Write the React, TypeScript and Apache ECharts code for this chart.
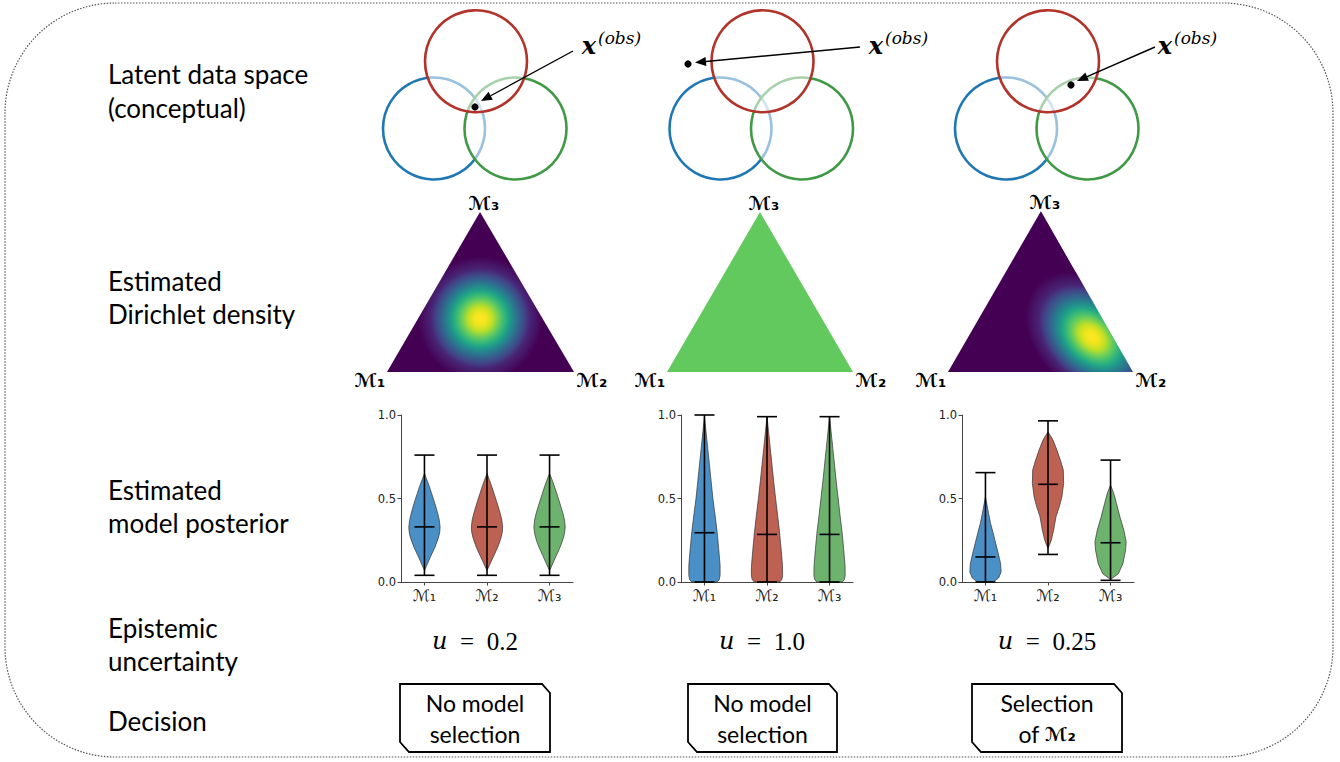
import React, { useEffect, useRef } from 'react';
import * as echarts from 'echarts';

// ---------------- data ----------------
const ROW_LABELS = [
  ['Latent data space', '(conceptual)'],
  ['Estimated', 'Dirichlet density'],
  ['Estimated', 'model posterior'],
  ['Epistemic', 'uncertainty'],
  ['Decision'],
];
const MODEL_POS = [1, 2, 3];
const MODEL_NAMES = ['ℳ₁', 'ℳ₂', 'ℳ₃'];
const U_VALUES = ['0.2', '1.0', '0.25'];
const DECISION_LINE1 = ['No model', 'No model', 'Selection'];
const DECISION_LINE2 = ['selection', 'selection', 'of '];
const DECISION_MODEL = ['', '', 'ℳ₂'];
const Y_TICKS = [0, 0.5, 1.0];

// panel 1 (equal posterior)
const P1_MIN = [0.04, 0.04, 0.04];
const P1_MAX = [0.76, 0.76, 0.76];
const P1_MEAN = [0.33, 0.33, 0.33];
const P1_LEVELS = [0.07, 0.09, 0.12, 0.15, 0.18, 0.21, 0.24, 0.27, 0.3, 0.33, 0.37, 0.41, 0.45, 0.49, 0.53, 0.57, 0.61, 0.65];
const P1_WIDTH_M1 = [0, 0.1, 0.24, 0.38, 0.53, 0.68, 0.8, 0.91, 0.98, 1.0, 0.95, 0.85, 0.73, 0.6, 0.46, 0.32, 0.16, 0];
const P1_WIDTH_M2 = [0, 0.11, 0.25, 0.4, 0.55, 0.69, 0.81, 0.91, 0.98, 1.0, 0.95, 0.85, 0.72, 0.59, 0.45, 0.31, 0.16, 0];
const P1_WIDTH_M3 = [0, 0.11, 0.25, 0.39, 0.54, 0.68, 0.8, 0.9, 0.97, 1.0, 0.96, 0.86, 0.73, 0.6, 0.46, 0.32, 0.17, 0];

// panel 2 (flat / maximal uncertainty)
const P2_MIN = [0.0, 0.0, 0.0];
const P2_MAX = [1.0, 0.99, 0.99];
const P2_MEAN = [0.295, 0.285, 0.285];
const P2_LEVELS = [0, 0.015, 0.04, 0.1, 0.2, 0.3, 0.4, 0.5, 0.6, 0.7, 0.8, 0.9, 0.99];
const P2_WIDTH_M1 = [0.82, 0.95, 1.0, 1.0, 0.91, 0.81, 0.68, 0.54, 0.43, 0.32, 0.21, 0.1, 0];
const P2_WIDTH_M2 = [0.82, 0.95, 1.0, 0.99, 0.9, 0.8, 0.68, 0.55, 0.43, 0.32, 0.21, 0.1, 0];
const P2_WIDTH_M3 = [0.82, 0.95, 1.0, 0.99, 0.9, 0.8, 0.67, 0.55, 0.43, 0.32, 0.21, 0.1, 0];

// panel 3 (M2 preferred)
const P3_MIN = [0.0, 0.165, 0.01];
const P3_MAX = [0.655, 0.965, 0.73];
const P3_MEAN = [0.15, 0.585, 0.235];
const P3_LEVELS_M1 = [0, 0.025, 0.06, 0.11, 0.17, 0.23, 0.29, 0.35, 0.41, 0.47, 0.51];
const P3_WIDTH_M1 = [0.5, 0.85, 1.0, 0.97, 0.82, 0.66, 0.5, 0.33, 0.2, 0.08, 0];
const P3_LEVELS_M2 = [0.2, 0.25, 0.31, 0.39, 0.45, 0.51, 0.59, 0.67, 0.73, 0.79, 0.85, 0.9];
const P3_WIDTH_M2 = [0, 0.21, 0.36, 0.51, 0.72, 0.89, 1.0, 0.98, 0.79, 0.57, 0.32, 0];
const P3_LEVELS_M3 = [0.015, 0.05, 0.11, 0.19, 0.24, 0.31, 0.39, 0.47, 0.53, 0.58];
const P3_WIDTH_M3 = [0, 0.5, 0.79, 0.96, 1.0, 0.85, 0.6, 0.38, 0.21, 0];

// ---------------- styling / layout ----------------
const VIOLIN_COLORS = ['#4a8fc5', '#bd6152', '#6db36d'];
const CIRCLE_BLUE = '#1f77b4';
const CIRCLE_RED = '#b2332a';
const CIRCLE_GREEN = '#3f9a46';
const LABEL_FONT = 'Lato, "Open Sans", sans-serif';
const MATH_FONT = '"DejaVu Serif", "Liberation Serif", serif';
const SCRIPT_FONT = '"DejaVu Sans", "DejaVu Serif", sans-serif';

const GRIDS = [
  { left: 401, top: 415, width: 172, height: 167 },
  { left: 681, top: 415, width: 172, height: 167 },
  { left: 962, top: 415, width: 172, height: 167 },
];
const COL_CENTER = [475, 762, 1047];
const VENN_X = [476, 762.5, 1048];
const DOTS = [[475, 107], [688, 64], [1071, 85]];
const ARROW_FROM = [[573, 51], [860, 47], [1155, 47]];
const ARROW_TO = [[481, 101], [695, 62.5], [1077, 81]];
const XOBS_X = [589, 876, 1165];
const TRI = [
  { apex: [480, 212], bl: [387, 372], br: [574, 372] },
  { apex: [760, 212], bl: [667, 372], br: [853, 372] },
  { apex: [1041, 211], bl: [948, 372], br: [1133, 372] },
];
const BOXES = [[400, 684, 550, 752], [688, 684, 837, 752], [972, 684, 1122, 752]];
const LABEL_Y = [[74, 108], [281, 314], [490, 523], [628, 661], [721]];

const VIRIDIS_STOPS: [number, string][] = [
  [0, '#fde725'], [0.1, '#f1e51d'], [0.2, '#bddf26'], [0.28, '#7ad151'], [0.36, '#44bf70'],
  [0.44, '#22a884'], [0.5, '#21918c'], [0.57, '#2a788e'], [0.64, '#355f8d'], [0.72, '#414487'],
  [0.8, '#482475'], [0.9, '#471365'], [1, '#440154'],
];
const stops = () => VIRIDIS_STOPS.map(([offset, color]) => ({ offset, color }));

const PANELS = [
  { min: P1_MIN, max: P1_MAX, mean: P1_MEAN, levels: [P1_LEVELS, P1_LEVELS, P1_LEVELS], widths: [P1_WIDTH_M1, P1_WIDTH_M2, P1_WIDTH_M3] },
  { min: P2_MIN, max: P2_MAX, mean: P2_MEAN, levels: [P2_LEVELS, P2_LEVELS, P2_LEVELS], widths: [P2_WIDTH_M1, P2_WIDTH_M2, P2_WIDTH_M3] },
  { min: P3_MIN, max: P3_MAX, mean: P3_MEAN, levels: [P3_LEVELS_M1, P3_LEVELS_M2, P3_LEVELS_M3], widths: [P3_WIDTH_M1, P3_WIDTH_M2, P3_WIDTH_M3] },
];

const HALF_WIDTH = 0.25;
const CAP_HALF = 0.16;

function txt(x: number, y: number, text: string, o: any = {}) {
  const align = o.align || 'center';
  return {
    type: 'text', x, y, silent: true, z: o.z || 10,
    style: {
      text,
      fill: o.fill || '#000',
      fontFamily: o.fontFamily || LABEL_FONT,
      fontSize: o.fontSize || 26,
      fontStyle: o.fontStyle || 'normal',
      fontWeight: o.fontWeight || 'normal',
      align, textAlign: align,
      verticalAlign: 'middle', textVerticalAlign: 'middle',
      rich: o.rich,
    },
  };
}

function buildGraphic() {
  const g: any[] = [];
  // outer rounded dotted frame
  g.push({
    type: 'rect', silent: true, z: 1,
    shape: { x: 5, y: 3, width: 1328, height: 754, r: 110 },
    style: { fill: 'none', stroke: '#555', lineWidth: 1.2, lineDash: [1.5, 1.5] },
  });
  // row labels
  ROW_LABELS.forEach((lines, i) => {
    lines.forEach((line, j) => g.push(txt(108, LABEL_Y[i][j], line, { align: 'left' })));
  });

  for (let c = 0; c < 3; c++) {
    const vx = VENN_X[c];
    const lw = 2.6;
    g.push({ type: 'circle', z: 5, silent: true, shape: { cx: vx - 42, cy: 128.5, r: 51 }, style: { fill: 'none', stroke: CIRCLE_BLUE, lineWidth: lw } });
    g.push({ type: 'circle', z: 5, silent: true, shape: { cx: vx + 39.5, cy: 128.5, r: 51 }, style: { fill: 'rgba(255,255,255,0.55)', stroke: CIRCLE_GREEN, lineWidth: lw } });
    g.push({ type: 'circle', z: 5, silent: true, shape: { cx: vx, cy: 61.3, r: 51 }, style: { fill: 'rgba(255,255,255,0.55)', stroke: CIRCLE_RED, lineWidth: lw } });
    // observation dot and arrow
    const [dx, dy] = DOTS[c];
    g.push({ type: 'circle', z: 6, silent: true, shape: { cx: dx, cy: dy, r: 3.6 }, style: { fill: '#000' } });
    const [fx, fy] = ARROW_FROM[c];
    const [tx, ty] = ARROW_TO[c];
    const len = Math.hypot(tx - fx, ty - fy);
    const ux = (tx - fx) / len, uy = (ty - fy) / len;
    const hl = 11, hw = 4.5;
    const bx = tx - ux * hl, by = ty - uy * hl;
    g.push({ type: 'line', z: 6, silent: true, shape: { x1: fx, y1: fy, x2: bx, y2: by }, style: { stroke: '#000', lineWidth: 1.4 } });
    g.push({ type: 'polygon', z: 6, silent: true, shape: { points: [[tx, ty], [bx - uy * hw, by + ux * hw], [bx + uy * hw, by - ux * hw]] }, style: { fill: '#000' } });
    g.push(txt(XOBS_X[c], 45, 'x', { fontFamily: MATH_FONT, fontStyle: 'italic', fontWeight: 'bold', fontSize: 24 }));
    g.push(txt(XOBS_X[c] + 9, 38, '(obs)', { fontFamily: MATH_FONT, fontStyle: 'italic', fontSize: 17, align: 'left' }));

    // Dirichlet triangle
    const t = TRI[c];
    const pts = [t.apex, t.br, t.bl];
    if (c === 0) {
      const cx = (t.apex[0] + t.bl[0] + t.br[0]) / 3;
      const cy = (t.apex[1] + t.bl[1] + t.br[1]) / 3;
      g.push({ type: 'polygon', z: 4, silent: true, shape: { points: pts }, style: { fill: { type: 'radial', x: cx, y: cy, r: 62, global: true, colorStops: stops() } } });
    } else if (c === 1) {
      g.push({ type: 'polygon', z: 4, silent: true, shape: { points: pts }, style: { fill: '#62c95f' } });
    } else {
      g.push({ type: 'polygon', z: 4, silent: true, shape: { points: pts }, style: { fill: '#440154' } });
      g.push({
        type: 'circle', z: 4, silent: true, x: 1092, y: 337, scaleX: 1.4, scaleY: 1, rotation: -0.75,
        shape: { cx: 0, cy: 0, r: 54 },
        style: { fill: { type: 'radial', x: 0.5, y: 0.5, r: 0.5, colorStops: stops() } },
      });
      // white masks to keep the density inside the simplex
      g.push({ type: 'polygon', z: 4, silent: true, shape: { points: [t.apex, t.br, [t.br[0] + 60, t.br[1]], [t.br[0] + 60, t.apex[1] - 2]] }, style: { fill: '#fff' } });
      g.push({ type: 'polygon', z: 4, silent: true, shape: { points: [[t.bl[0], t.bl[1]], [t.br[0] + 60, t.br[1]], [t.br[0] + 60, 410], [t.bl[0], 410]] }, style: { fill: '#fff' } });
    }
    const mOpts = { fontFamily: SCRIPT_FONT, fontWeight: 'bold', fontSize: 19 };
    g.push(txt(t.apex[0] + 4, t.apex[1] - 9, 'ℳ₃', mOpts));
    g.push(txt(t.bl[0] - 17, t.bl[1] + 8, 'ℳ₁', mOpts));
    g.push(txt(t.br[0] + 18, t.br[1] + 8, 'ℳ₂', mOpts));

    // uncertainty
    g.push(txt(COL_CENTER[c], 641, '{i|u}{n|\u2002=\u2002' + U_VALUES[c] + '}', {
      rich: {
        i: { fontFamily: MATH_FONT, fontStyle: 'italic', fontSize: 24, fill: '#000' },
        n: { fontFamily: '"Liberation Serif", serif', fontSize: 25, fill: '#000' },
      },
    }));

    // decision box
    const [x0, y0, x1, y1] = BOXES[c];
    g.push({
      type: 'polygon', z: 5, silent: true,
      shape: { points: [[x0, y0], [x1 - 8, y0], [x1, y0 + 9], [x1, y1], [x0 + 9, y1], [x0, y1 - 10]] },
      style: { fill: '#fff', stroke: '#000', lineWidth: 1.8 },
    });
    const bc = (x0 + x1) / 2;
    g.push(txt(bc, 703, DECISION_LINE1[c], { fontSize: 23 }));
    if (DECISION_MODEL[c]) {
      g.push(txt(bc, 734, '{n|' + DECISION_LINE2[c] + '}{m|' + DECISION_MODEL[c] + '}', {
        rich: {
          n: { fontFamily: LABEL_FONT, fontSize: 23, fill: '#000' },
          m: { fontFamily: SCRIPT_FONT, fontWeight: 'bold', fontSize: 19, fill: '#000' },
        },
      }));
    } else {
      g.push(txt(bc, 734, DECISION_LINE2[c], { fontSize: 23 }));
    }
  }
  return g;
}

function violinSeries(p: number) {
  const panel = PANELS[p];
  return {
    type: 'custom',
    xAxisIndex: p,
    yAxisIndex: p,
    silent: true,
    data: MODEL_POS.map((pos, i) => [pos, panel.mean[i]]),
    renderItem: (params: any, api: any) => {
      const i = params.dataIndex;
      const pos = api.value(0);
      const lv = panel.levels[i];
      const w = panel.widths[i];
      const right = lv.map((v: number, k: number) => api.coord([pos + w[k] * HALF_WIDTH, v]));
      const left = lv.map((v: number, k: number) => api.coord([pos - w[k] * HALF_WIDTH, v])).reverse();
      const top = api.coord([pos, panel.max[i]]);
      const bot = api.coord([pos, panel.min[i]]);
      const capL = api.coord([pos - CAP_HALF, panel.max[i]])[0];
      const capR = api.coord([pos + CAP_HALF, panel.max[i]])[0];
      const mean = api.coord([pos, panel.mean[i]])[1];
      const ls = { stroke: '#000', lineWidth: 1.6 };
      return {
        type: 'group',
        children: [
          { type: 'polygon', shape: { points: right.concat(left) }, style: { fill: VIOLIN_COLORS[i], stroke: '#333', lineWidth: 0.7 } },
          { type: 'line', shape: { x1: top[0], y1: top[1], x2: bot[0], y2: bot[1] }, style: ls },
          { type: 'line', shape: { x1: capL, y1: top[1], x2: capR, y2: top[1] }, style: ls },
          { type: 'line', shape: { x1: capL, y1: bot[1], x2: capR, y2: bot[1] }, style: ls },
          { type: 'line', shape: { x1: capL, y1: mean, x2: capR, y2: mean }, style: ls },
        ],
      };
    },
  };
}

function buildOption() {
  return {
    animation: false,
    backgroundColor: '#fff',
    grid: GRIDS.map((g) => ({ ...g, containLabel: false })),
    xAxis: GRIDS.map((_, i) => ({
      gridIndex: i,
      type: 'value',
      min: 0.625,
      max: 3.375,
      splitLine: { show: false },
      axisLine: { show: true, lineStyle: { color: '#444', width: 1 } },
      axisTick: { show: true, customValues: MODEL_POS, length: 3.5, lineStyle: { color: '#444' } },
      axisLabel: {
        show: true,
        customValues: MODEL_POS,
        formatter: (v: number) => (Number.isInteger(v) && v >= 1 && v <= 3 ? MODEL_NAMES[v - 1] : ''),
        fontFamily: SCRIPT_FONT,
        fontSize: 16,
        color: '#222',
        margin: 5,
      },
    })),
    yAxis: GRIDS.map((_, i) => ({
      gridIndex: i,
      type: 'value',
      min: 0,
      max: 1,
      interval: 0.5,
      splitLine: { show: false },
      axisLine: { show: true, lineStyle: { color: '#444', width: 1 } },
      axisTick: { show: true, length: 3.5, lineStyle: { color: '#444' } },
      axisLabel: {
        show: true,
        customValues: Y_TICKS,
        formatter: (v: number) => v.toFixed(1),
        fontFamily: '"DejaVu Sans", sans-serif',
        fontSize: 11.5,
        color: '#222',
        margin: 5,
      },
    })),
    series: [violinSeries(0), violinSeries(1), violinSeries(2)],
    graphic: { elements: buildGraphic() },
  };
}

export default function App() {
  const ref = useRef<HTMLDivElement>(null);
  useEffect(() => {
    const chart = echarts.init(ref.current!, null, { renderer: 'svg' });
    chart.setOption(buildOption() as any);
    return () => chart.dispose();
  }, []);
  return (
    <div
      ref={ref}
      style={{ position: 'absolute', left: 0, top: 0, width: 1340, height: 762, background: '#fff' }}
    />
  );
}
